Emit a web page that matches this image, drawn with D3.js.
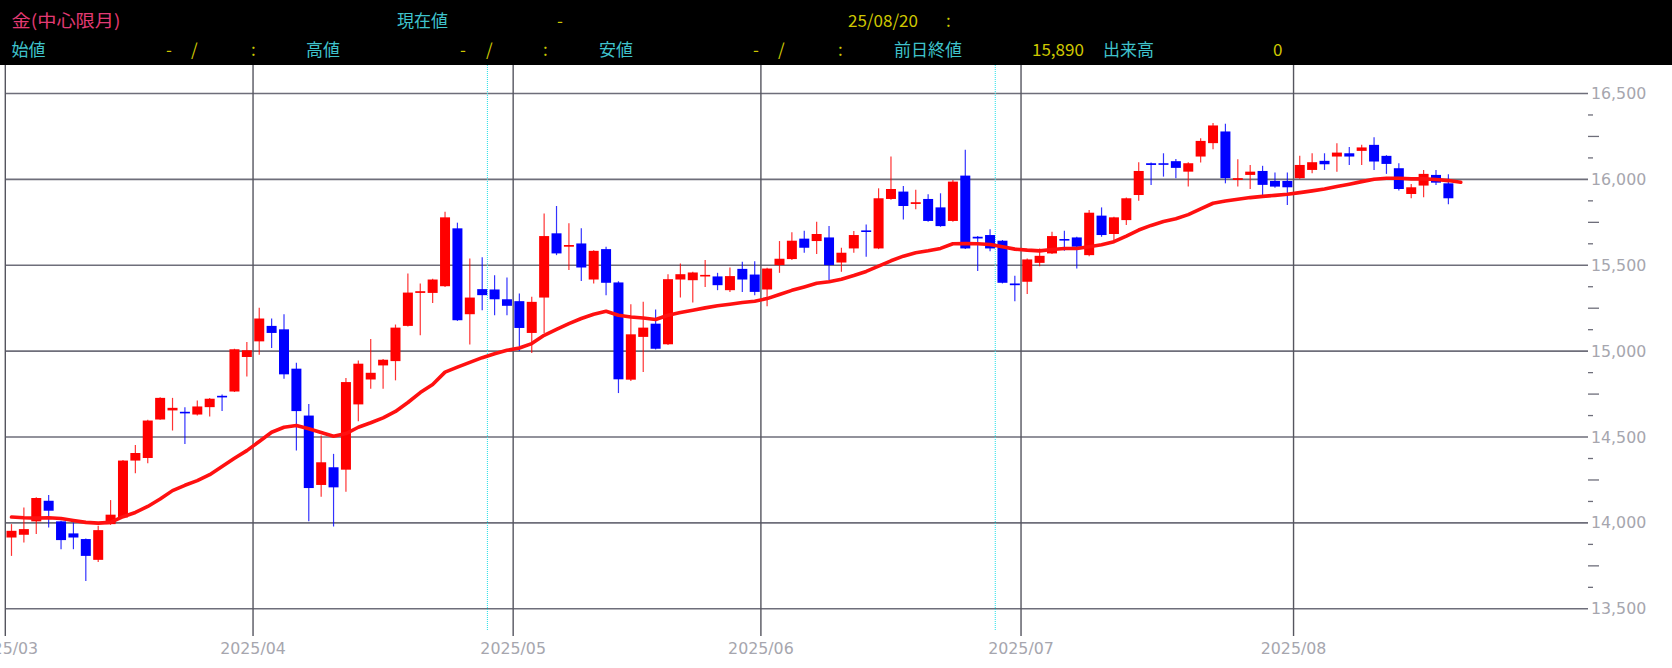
<!DOCTYPE html>
<html><head><meta charset="utf-8">
<script src="https://cdn.jsdelivr.net/npm/d3@7"></script>
<style>html,body{margin:0;padding:0;background:#fff;overflow:hidden}</style>
</head><body><svg id="c" width="1672" height="668"></svg>
<script>
// ---- data ----
const dates = [
"03/03","03/04","03/05","03/06","03/07","03/10","03/11","03/12","03/13","03/14","03/17","03/18","03/19","03/21","03/24","03/25","03/26","03/27","03/28","03/31",
"04/01","04/02","04/03","04/04","04/07","04/08","04/09","04/10","04/11","04/14","04/15","04/16","04/17","04/18","04/21","04/22","04/23","04/24","04/25","04/28","04/30",
"05/01","05/02","05/07","05/08","05/09","05/12","05/13","05/14","05/15","05/16","05/19","05/20","05/21","05/22","05/23","05/26","05/27","05/28","05/29","05/30",
"06/02","06/03","06/04","06/05","06/06","06/09","06/10","06/11","06/12","06/13","06/16","06/17","06/18","06/19","06/20","06/23","06/24","06/25","06/26","06/27","06/30",
"07/01","07/02","07/03","07/04","07/07","07/08","07/09","07/10","07/11","07/14","07/15","07/16","07/17","07/18","07/22","07/23","07/24","07/25","07/28","07/29","07/30","07/31",
"08/01","08/04","08/05","08/06","08/07","08/08","08/11","08/12","08/13","08/14","08/15","08/18","08/19","08/20"];
const open = [13915,13931,14009,14129,14009,13939,13906,13785,13993,14032,14363,14378,14602,14655,14647,14631,14674,14740,14765,14966,
15057,15147,15127,14898,14625,14221,14324,14310,14690,14835,14917,14942,15147,15339,15339,15378,15715,15215,15361,15359,15302,
15291,15106,15312,15686,15608,15627,15417,15594,15400,14834,15083,15160,15040,15417,15413,15441,15435,15355,15479,15446,
15359,15501,15536,15655,15641,15662,15516,15598,15703,15598,15886,15929,15857,15886,15837,15758,16022,15666,15676,15643,15394,
15404,15514,15569,15653,15662,15559,15789,15682,15763,15909,16094,16094,16106,16045,16133,16211,16279,15997,16026,16049,15991,15991,
16007,16055,16108,16133,16152,16166,16201,16137,16065,15915,15964,16026,15977,null];
const high = [13993,14090,14149,14162,14012,14003,13909,13983,14133,14367,14454,14600,14732,14728,14674,14713,14727,14748,15014,15053,
15252,15190,15215,14933,14693,14509,14402,14843,14946,15071,14954,15155,15452,15394,15421,15812,15748,15540,15546,15442,15429,
15335,15316,15802,15845,15744,15715,15588,15608,15407,15273,15287,15242,15448,15511,15462,15530,15456,15487,15520,15524,
15485,15641,15692,15701,15754,15728,15602,15699,15738,15948,16133,15962,15939,15913,15919,15997,16172,15670,15709,15647,15439,
15540,15598,15695,15701,15666,15822,15837,15783,15894,16100,16098,16152,16118,16100,16240,16328,16324,16117,16084,16079,16040,16040,
16137,16152,16152,16211,16188,16201,16246,16141,16094,15973,16055,16055,16030,null];
const low = [13808,13886,13935,13974,13847,13847,13662,13773,13989,14028,14289,14347,14600,14538,14460,14625,14620,14651,14762,14853,
14979,15018,14839,14421,14009,14153,13979,14182,14592,14781,14781,14830,15143,15092,15281,15374,15176,15038,15238,15209,15209,
15001,14989,15106,15559,15472,15409,15394,15326,14756,14826,14878,15009,15036,15312,15283,15374,15355,15345,15345,15326,
15262,15456,15530,15573,15565,15413,15462,15573,15549,15594,15882,15767,15826,15754,15724,15754,15594,15466,15582,15394,15291,
15332,15495,15565,15584,15481,15553,15666,15643,15734,15876,15968,16016,16007,15958,16098,16176,15977,15958,15944,15909,15952,15851,
16003,16036,16055,16045,16084,16084,16055,16032,15935,15890,15896,15968,15855,null];
const close = [13954,13964,14145,14071,13900,13915,13808,13958,14048,14363,14407,14596,14728,14670,14639,14678,14723,14732,15011,15005,
15190,15106,14865,14651,14203,14353,14207,14820,14927,14874,14950,15137,15341,15349,15417,15779,15180,15312,15326,15302,15264,
15135,15287,15670,15569,15618,15487,15584,15398,14836,15098,15137,15014,15419,15448,15458,15444,15384,15437,15417,15345,
15481,15538,15643,15602,15682,15501,15573,15676,15695,15890,15944,15845,15867,15758,15728,15987,15598,15656,15598,15398,15384,
15534,15555,15670,15647,15608,15806,15676,15779,15890,16049,16084,16088,16067,16094,16224,16314,16007,16007,16045,15968,15958,15954,
16084,16100,16088,16156,16133,16186,16104,16090,15944,15954,16032,15981,15890,null];
const ma = [14034,14030,14028,14030,14026,14014,14003,13999,14003,14036,14061,14096,14139,14188,14219,14246,14281,14328,14376,14421,
14474,14528,14557,14567,14548,14526,14505,14520,14557,14583,14612,14649,14701,14759,14806,14878,14907,14935,14962,14985,15005,
15018,15044,15092,15127,15160,15190,15215,15232,15209,15199,15193,15184,15209,15225,15238,15252,15264,15273,15283,15291,
15306,15330,15354,15374,15395,15404,15419,15440,15464,15495,15526,15553,15573,15584,15598,15625,15627,15625,15621,15608,15594,
15588,15584,15592,15598,15598,15608,15619,15637,15670,15705,15732,15755,15771,15795,15828,15861,15874,15884,15894,15901,15907,15913,
15923,15933,15944,15958,15972,15987,16001,16007,16007,16003,16003,15999,15993,15983];
const monthStarts = ["03/03","04/01","05/01","06/02","07/01","08/01"];
const monthLabels = ["2025/03","2025/04","2025/05","2025/06","2025/07","2025/08"];
const rollDates = ["04/28","06/27"];
const yTicks = [13500,14000,14500,15000,15500,16000,16500];
const yMinor = [13625,13750,13875,14125,14250,14375,14625,14750,14875,15125,15250,15375,15625,15750,15875,16125,16250,16375];

// header texts
const headRow1 = [
  {t:"金(中心限月)", x:11.5, c:"#e33a72", len:109},
  {t:"現在値", x:397, c:"#3fc3cc"},
  {t:"-", x:557, c:"#cfc800"},
  {t:"25/08/20", x:848, c:"#cfc800"},
  {t:":", x:946, c:"#cfc800"}
];
const headRow2 = [
  {t:"始値", x:11.5, c:"#3fc3cc"},
  {t:"-", x:166, c:"#cfc800"}, {t:"/", x:191, c:"#cfc800"}, {t:":", x:251, c:"#cfc800"},
  {t:"高値", x:306, c:"#3fc3cc"},
  {t:"-", x:460, c:"#cfc800"}, {t:"/", x:486, c:"#cfc800"}, {t:":", x:543, c:"#cfc800"},
  {t:"安値", x:599, c:"#3fc3cc"},
  {t:"-", x:753, c:"#cfc800"}, {t:"/", x:778, c:"#cfc800"}, {t:":", x:838, c:"#cfc800"},
  {t:"前日終値", x:894, c:"#3fc3cc"},
  {t:"15,890", x:1032, c:"#cfc800"},
  {t:"出来高", x:1103, c:"#3fc3cc"},
  {t:"0", x:1273, c:"#cfc800"}
];

// ---- drawing ----
const svg = d3.select("#c");
const W = 1672, H = 668;
const plotL = 5.3, plotR = 1588, step = 12.387;
const topY = 65, gridBottom = 636;

svg.append("rect").attr("width",W).attr("height",H).attr("fill","#fff");
svg.append("rect").attr("width",W).attr("height",topY).attr("fill","#000");

const x = d3.scaleBand().domain(dates).range([plotL, plotL + dates.length*step]).padding(0);
const y = d3.scaleLinear().domain([13500,16500]).range([608.8,93.5]);
const cx = d => x(d) + x.bandwidth()/2;

const grid = svg.append("g");
grid.selectAll("line.h").data(yTicks).join("line")
  .attr("x1",plotL).attr("x2",plotR).attr("y1",d=>y(d)).attr("y2",d=>y(d))
  .attr("stroke","#6e6e7a").attr("stroke-width",1.6);
grid.selectAll("line.v").data(monthStarts).join("line")
  .attr("x1",d=>x(d)).attr("x2",d=>x(d)).attr("y1",topY).attr("y2",gridBottom)
  .attr("stroke","#55555f").attr("stroke-width",1.4);
grid.selectAll("line.r").data(rollDates).join("line")
  .attr("x1",d=>x(d)-1).attr("x2",d=>x(d)-1).attr("y1",topY).attr("y2",gridBottom-6)
  .attr("stroke","#22e0e8").attr("stroke-width",1).attr("stroke-dasharray","1,1");

const yAxis = d3.axisRight(y).tickValues(yTicks).tickSize(0).tickPadding(3).tickFormat(d3.format(","));
const ya = svg.append("g").attr("transform",`translate(${plotR},0)`).call(yAxis);
ya.select(".domain").remove();
ya.selectAll("text").attr("fill","#a6a6ae").style("font-family","'DejaVu Sans'").style("font-size","15.8px");
svg.append("g").selectAll("line").data(yMinor).join("line")
  .attr("x1",plotR).attr("x2",d=> (d%250===0) ? plotR+11 : plotR+5)
  .attr("y1",d=>y(d)).attr("y2",d=>y(d))
  .attr("stroke","#6e6e7a").attr("stroke-width",1.3);

const xa = svg.append("g");
xa.selectAll("text").data(monthStarts).join("text")
  .attr("x",d=>x(d)).attr("y",653.5).attr("text-anchor","middle")
  .attr("fill","#a6a6ae").style("font-family","'DejaVu Sans'").style("font-size","15.8px")
  .text((d,i)=>monthLabels[i]);

const idx = d3.range(dates.length).filter(i => open[i] !== null);
const cg = svg.append("g");
const colorOf = i => close[i] >= open[i] ? "#ff0000" : "#0000ff";
cg.selectAll("line").data(idx).join("line")
  .attr("x1",i=>cx(dates[i])).attr("x2",i=>cx(dates[i]))
  .attr("y1",i=>y(high[i])).attr("y2",i=>y(low[i]))
  .attr("stroke",colorOf).attr("stroke-width",1.2).attr("stroke-opacity",0.8);
const bw = 10;
cg.selectAll("rect").data(idx).join("rect")
  .attr("x",i=>cx(dates[i]) - bw/2).attr("width",bw)
  .attr("y",i=>y(Math.max(open[i],close[i])))
  .attr("height",i=>Math.max(1.6, Math.abs(y(open[i]) - y(close[i]))))
  .attr("fill",colorOf);

const line = d3.line().x((d,i)=>cx(dates[i])).y(d=>y(d));
svg.append("path").datum(ma).attr("d",line)
  .attr("fill","none").attr("stroke","#ff1010").attr("stroke-width",3.6)
  .attr("stroke-linejoin","round").attr("stroke-linecap","round");

const hf = "'Noto Sans CJK JP','Noto Sans',sans-serif";
function row(items, yb){
  const g = svg.append("g");
  items.forEach(it => {
    const t = g.append("text").attr("x",it.x).attr("y",yb).attr("fill",it.c)
      .style("font-family",hf).style("font-size","17px").text(it.t);
    if (it.len) t.attr("textLength",it.len).attr("lengthAdjust","spacingAndGlyphs");
  });
}
row(headRow1, 26.5);
row(headRow2, 55.5);
</script>
</body></html>
